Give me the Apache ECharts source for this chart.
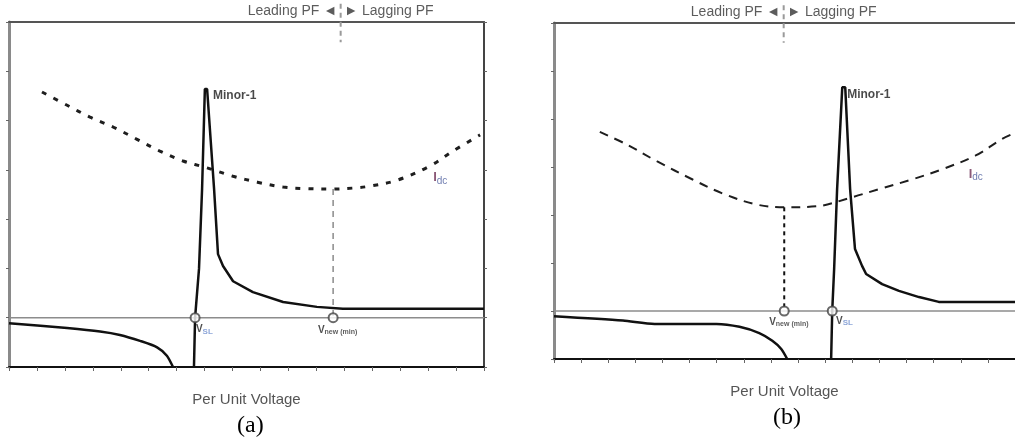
<!DOCTYPE html>
<html>
<head>
<meta charset="utf-8">
<script src="https://cdn.jsdelivr.net/npm/echarts@6/dist/echarts.min.js"></script>
<style>
  html, body { margin: 0; padding: 0; background: #fff; }
  #chart { width: 1015px; height: 443px; }
</style>
</head>
<body>
<div id="chart"></div>
<script>
// Axis ranges (tick units along per-unit voltage, current/power in arbitrary units)
const xRange = [0, 17];
const yRange = [-1, 6];

// Panel (a): dc current curve, Minor-1 curve (two branches), V_new(min), PF boundary
const idcA = [[1.18,4.58],[2.08,4.31],[2.90,4.07],[3.72,3.87],[4.58,3.62],[5.40,3.38],[6.23,3.18],
  [7.09,3.04],[8.02,2.87],[8.89,2.75],[9.81,2.65],[10.6,2.62],[11.6,2.61],[12.3,2.63],[12.92,2.67],
  [13.89,2.79],[15.07,3.08],[15.89,3.38],[16.86,3.71]];
const minorA_low = [[0,-0.11],[2.08,-0.21],[3.26,-0.28],[3.97,-0.35],[4.69,-0.47],[5.30,-0.60],
  [5.65,-0.77],[5.87,-1]];
const minorA_high = [[6.62,-1],[6.66,0],[6.80,0.99],[6.91,2.61],[7.01,4.64],[7.09,4.64],[7.34,2.61],
  [7.48,1.29],[7.66,1.05],[8.02,0.74],[8.73,0.52],[9.81,0.32],[11.02,0.22],[11.95,0.18],[17,0.18]];
const vslA = 6.66;
const vnewA = 11.6;
const pfA = 11.87;

// Panel (b)
const idcB = [[1.69,3.73],[2.68,3.47],[3.79,3.12],[5.11,2.74],[6.21,2.45],[7.46,2.22],[8.49,2.16],
  [9.67,2.18],[10.99,2.37],[11.99,2.54],[13.20,2.74],[14.30,2.95],[15.55,3.24],[16.51,3.58],[16.88,3.68]];
const minorB_low = [[0,-0.11],[2.54,-0.20],[3.71,-0.27],[5.99,-0.27],[6.84,-0.33],[7.57,-0.46],
  [8.05,-0.62],[8.38,-0.79],[8.60,-1]];
const minorB_high = [[10.22,-1],[10.26,0],[10.33,0.87],[10.44,2.54],[10.63,4.66],[10.74,4.66],
  [10.92,2.54],[11.10,1.29],[11.36,0.94],[11.51,0.77],[12.10,0.56],[12.72,0.42],[13.46,0.29],
  [14.19,0.19],[17,0.19]];
const vslB = 10.26;
const vnewB = 8.49;
const pfB = 8.47;

// Text
const xName = 'Per Unit Voltage';
const panelNames = ['(a)', '(b)'];
const leadText = 'Leading PF \u25C4';
const lagText = '\u25BA Lagging PF';
const minorName = 'Minor-1';

const SANS = '"Liberation Sans", Arial, sans-serif';

function xAxes(grid) {
  const bottom = {
    type: 'value', gridIndex: grid, position: 'bottom', min: xRange[0], max: xRange[1], interval: 1,
    name: xName, nameLocation: 'middle', nameGap: 25,
    nameTextStyle: { color: '#555', fontSize: 15, fontFamily: SANS },
    axisLine: { onZero: false, lineStyle: { color: '#111', width: 2 } },
    axisTick: { length: 4, lineStyle: { color: '#666', width: 1 } },
    axisLabel: { show: false }, splitLine: { show: false }
  };
  const top = {
    type: 'value', gridIndex: grid, position: 'top', min: xRange[0], max: xRange[1],
    axisLine: { show: true, onZero: false, lineStyle: { color: '#555', width: 2 } },
    axisTick: { show: false }, axisLabel: { show: false }, splitLine: { show: false }
  };
  return [bottom, top];
}

function yAxis(grid, pos, color, width) {
  return {
    type: 'value', gridIndex: grid, position: pos, min: yRange[0], max: yRange[1], interval: 1,
    axisLine: { show: true, onZero: false, lineStyle: { color: color, width: width } },
    axisTick: { show: true, length: 3, lineStyle: { color: '#666', width: 1 } },
    axisLabel: { show: false }, splitLine: { show: false }
  };
}

function line(xi, yi, data, style, extra) {
  return Object.assign({
    type: 'line', xAxisIndex: xi, yAxisIndex: yi, data: data, symbol: 'none',
    lineStyle: style, silent: true, animation: false
  }, extra || {});
}

function textAt(xi, yi, pt, label) {
  return {
    type: 'scatter', xAxisIndex: xi, yAxisIndex: yi, clip: false, silent: true, animation: false,
    symbolSize: 0, data: [pt],
    label: Object.assign({ show: true, position: [0, 0], verticalAlign: 'middle' }, label)
  };
}

const idcRich = {
  i: { color: '#6e2f55', fontSize: 13, fontWeight: 'bold', fontFamily: SANS, lineHeight: 16 },
  s: { color: '#4b5d9c', fontSize: 10, fontFamily: SANS, lineHeight: 16, padding: [7, 0, 0, 0] }
};
const vRich = {
  v: { color: '#222', fontSize: 10, fontWeight: 'bold', fontFamily: SANS, lineHeight: 12 },
  s: { color: '#333', fontSize: 7, fontWeight: 'bold', fontFamily: SANS, lineHeight: 12, padding: [4, 0, 0, 0] },
  b: { color: '#6f8fce', fontSize: 8, fontWeight: 'bold', fontFamily: SANS, lineHeight: 12, padding: [4, 0, 0, 0] }
};
const pfStyle = { color: '#333', fontSize: 14, fontFamily: SANS };
const minorStyle = { color: '#1a1a1a', fontSize: 12, fontWeight: 'bold', fontFamily: SANS, align: 'left' };

function panelSeries(p) {
  // p: xi (bottom axis), yi (left axis) and the data for one panel
  const s = [];
  const xi = p.xi, yi = p.yi;
  // zero line
  s.push(line(xi, yi, [[xRange[0], 0], [xRange[1], 0]], { color: '#8c8c8c', width: 1.5 }));
  // dc current
  s.push(line(xi, yi, p.idc, { color: '#1e1e1e', width: p.idcWidth, type: p.idcDash }, { smooth: 0.35 }));
  // drop line from the current minimum to the voltage axis
  s.push(line(xi, yi, [[p.vnew, p.idcMin], [p.vnew, 0]], { color: p.dropColor, width: p.dropWidth, type: p.dropDash }));
  // Minor-1 branches
  s.push(line(xi, yi, p.low, { color: '#111', width: 2.5 }, { smooth: 0.25 }));
  s.push(line(xi, yi, p.high, { color: '#111', width: 2.5 }));
  // PF boundary above the frame
  s.push(line(xi, yi, [[p.pf, 6.37], [p.pf, 5.59]], { color: '#9a9a9a', width: 2, type: [5, 4] }, { clip: false }));
  // crossing markers
  s.push({
    type: 'scatter', xAxisIndex: xi, yAxisIndex: yi, silent: true, animation: false,
    symbol: 'emptyCircle', symbolSize: 9, data: [[p.vsl, 0], [p.vnew, 0]],
    itemStyle: { color: '#444', borderColor: '#444', borderWidth: 1.2 }, z: 5
  });
  // labels
  s.push(textAt(xi, yi, [p.pf - 0.13, 6.22], Object.assign({ formatter: leadText, align: 'right' }, pfStyle)));
  s.push(textAt(xi, yi, [p.pf + 0.13, 6.22], Object.assign({ formatter: lagText, align: 'left' }, pfStyle)));
  s.push(textAt(xi, yi, p.minorAt, Object.assign({ formatter: minorName }, minorStyle)));
  s.push(textAt(xi, yi, p.idcAt, { formatter: '{i|I}{s|dc}', align: 'left', rich: idcRich }));
  s.push(textAt(xi, yi, p.vslAt, { formatter: '{v|V}{b|SL}', align: 'left', rich: vRich }));
  s.push(textAt(xi, yi, p.vnewAt, { formatter: '{v|V}{s|new (min)}', align: 'center', rich: vRich }));
  return s;
}

const series = [].concat(
  panelSeries({
    xi: 0, yi: 0, idc: idcA, idcMin: 2.61, idcWidth: 3, idcDash: [5, 8],
    dropColor: '#8a8a8a', dropWidth: 1.5, dropDash: [6, 5],
    low: minorA_low, high: minorA_high, vsl: vslA, vnew: vnewA, pf: pfA,
    minorAt: [7.30, 4.50], idcAt: [15.18, 2.85], vslAt: [6.69, -0.24], vnewAt: [11.76, -0.25]
  }),
  panelSeries({
    xi: 2, yi: 2, idc: idcB, idcMin: 2.16, idcWidth: 2, idcDash: [9, 7],
    dropColor: '#111', dropWidth: 2, dropDash: [4, 4],
    low: minorB_low, high: minorB_high, vsl: vslB, vnew: vnewB, pf: pfB,
    minorAt: [10.81, 4.51], idcAt: [15.29, 2.85], vslAt: [10.40, -0.21], vnewAt: [8.66, -0.23]
  })
);

const chart = echarts.init(document.getElementById('chart'), null, { renderer: 'canvas' });
chart.setOption({
  backgroundColor: '#fff',
  animation: false,
  grid: [
    { left: 9, top: 22, width: 475, height: 345 },
    { left: 554, top: 23, width: 462, height: 336 }
  ],
  xAxis: [].concat(xAxes(0), xAxes(1)),
  yAxis: [
    yAxis(0, 'left', '#8a8a8a', 3),
    yAxis(0, 'right', '#444', 2),
    yAxis(1, 'left', '#8a8a8a', 3)
  ],
  graphic: [
    { type: 'text', left: 253 - 16, top: 414, style: { text: panelNames[0], font: '24px "Liberation Serif", "Times New Roman", serif', fill: '#000' } },
    { type: 'text', left: 790 - 17, top: 406, style: { text: panelNames[1], font: '24px "Liberation Serif", "Times New Roman", serif', fill: '#000' } }
  ],
  series: series
});
</script>
</body>
</html>
